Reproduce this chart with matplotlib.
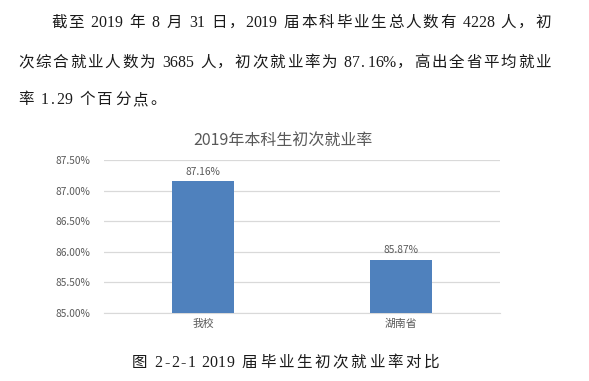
import matplotlib
matplotlib.use("Agg")
import matplotlib.pyplot as plt
from matplotlib.font_manager import FontProperties
from matplotlib.ticker import FuncFormatter

plt.rcParams['font.family'] = ['Noto Sans CJK SC', 'DejaVu Sans']

# data
categories = ['我校', '湖南省']
rates = [87.16, 85.87]
y_ticks = [85.0, 85.5, 86.0, 86.5, 87.0, 87.5]

para_lines = [
    '截至 2019 年 8 月 31 日，2019 届本科毕业生总人数有 4228 人，初',
    '次综合就业人数为 3685 人，初次就业率为 87.16%，高出全省平均就业',
    '率 1.29 个百分点。',
]
chart_title = '2019年本科生初次就业率'
caption = '图 2-2-1 2019 届毕业生初次就业率对比'

W, H = 589, 381
fig = plt.figure(figsize=(W / 100, H / 100), dpi=100)

# document text: full-width CJK cells, narrow latin cells (like SimSun in Word)
txt_col = '#1a1a1a'
prop_cjk = FontProperties(family='Noto Sans CJK SC', size=11.2)
prop_lat = FontProperties(family='Liberation Serif', size=11.4)
CELL = 17.6  # px per full-width character


def unit(ch):
    if ch == ' ':
        return 0.35
    if ch == '%':
        return 0.75
    if ord(ch) < 128:
        return 0.45
    return 1.0


def draw_line(text, x0, y, x1=None):
    # y is the baseline in px from the top; x1 justifies the line to that edge
    units = [unit(ch) for ch in text]
    cell = CELL if x1 is None else (x1 - x0) / sum(units)
    xpos = x0
    for ch, u in zip(text, units):
        w = u * cell
        if ch != ' ':
            prop = prop_lat if ord(ch) < 128 else prop_cjk
            fig.text((xpos + w / 2) / W, 1 - y / H, ch, fontproperties=prop,
                     color=txt_col, ha='center', va='baseline')
        xpos += w


draw_line(para_lines[0], 50, 27, 552)
draw_line(para_lines[1], 17, 67, 552)
draw_line(para_lines[2], 17, 104)

# chart
ax = fig.add_axes([104 / W, 1 - 313 / H, (500 - 104) / W, (313 - 160) / H])
x = range(len(categories))
ax.bar(x, rates, width=0.31, color='#4F81BD', zorder=3)
for xi, v in zip(x, rates):
    ax.text(xi, v + 0.07, f'{v:.2f}%', ha='center', va='bottom', fontsize=7.3, color='#595959')

ax.set_xlim(-0.5, 1.5)
ax.set_ylim(85.0, 87.5)
ax.set_yticks(y_ticks)
ax.yaxis.set_major_formatter(FuncFormatter(lambda v, p: f'{v:.2f}%'))
ax.set_xticks(list(x))
ax.set_xticklabels(categories)
ax.tick_params(axis='both', length=0, labelsize=7.3, labelcolor='#595959')
ax.tick_params(axis='y', pad=10)
ax.tick_params(axis='x', labelsize=7.8, pad=4)
ax.grid(axis='y', color='#D9D9D9', linewidth=0.9, zorder=0)
for s in ['top', 'right', 'left']:
    ax.spines[s].set_visible(False)
ax.spines['bottom'].set_color('#D9D9D9')

fig.text(283 / W, 1 - 140 / H, chart_title, fontsize=11.5, fontweight='medium',
         color='#595959', ha='center', va='center')

draw_line(caption, 130, 367, 440)

fig.savefig('out.png', dpi=100)
